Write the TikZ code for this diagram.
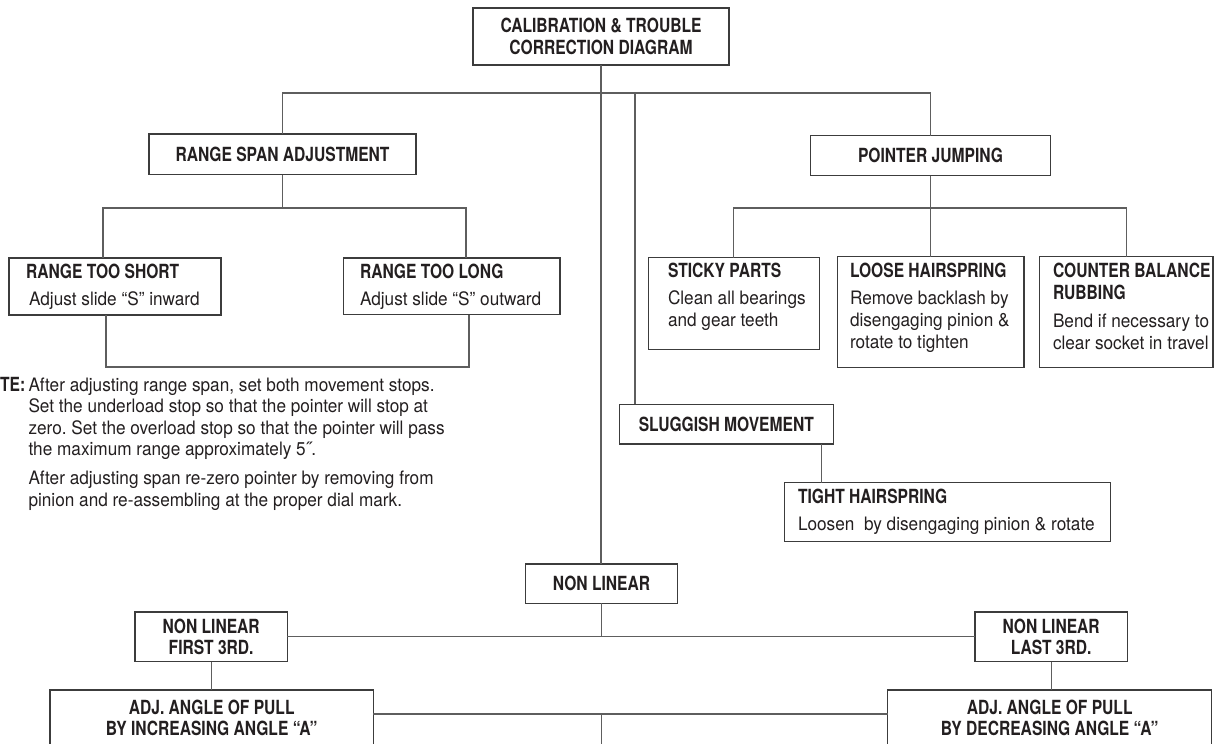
\documentclass[tikz,border=0pt]{standalone}
\usepackage{fontspec}
\usetikzlibrary{calc}
\frenchspacing
\newfontfamily\hbf{TeX Gyre Heros}[FakeStretch=0.80]
\newfontfamily\hrf{TeX Gyre Heros}[FakeStretch=0.93]
\newcommand\ttl{\hbf\bfseries\fontsize{19.5}{22}\selectfont}
\newcommand\bdy{\hrf\fontsize{18.5}{22}\selectfont}
\definecolor{boxc}{HTML}{3C3C3C}
\definecolor{linec}{HTML}{5E5E5E}
\definecolor{txtc}{HTML}{231F20}
\tikzset{
  boxs/.style={draw=boxc, line width=1.3pt, inner sep=0pt, outer sep=0pt,
    align=center, text=txtc, font=\hbf\bfseries\fontsize{19.5}{21.5}\selectfont},
  conn/.style={draw=linec, line width=1.3pt},
  txt/.style={anchor=north west, inner sep=0pt, outer sep=0pt, align=left,
    text=txtc, font=\bdy},
}
\newcommand\mkbox[6]{\node[boxs, minimum width={(#4)-(#2)}, minimum height={(#5)-(#3)}]
  (#1) at ({((#2)+(#4))/2},{((#3)+(#5))/2}) {#6};}
\begin{document}
\begin{tikzpicture}[x=1pt,y=-1pt]
\useasboundingbox (0,0) rectangle (1216,744);
% boxes
\mkbox{title}{473}{8}{729}{65}{CALIBRATION \& TROUBLE\\CORRECTION DIAGRAM}
\mkbox{span}{149}{134}{416}{174.5}{RANGE SPAN ADJUSTMENT}
\mkbox{pj}{810.5}{135.7}{1050.5}{175.5}{POINTER JUMPING}
\mkbox{rts}{9}{258}{221}{315}{}
\mkbox{rtl}{343.5}{258}{560}{314.5}{}
\mkbox{stk}{648.3}{257.7}{819.3}{349.3}{}
\mkbox{lhs}{837.2}{256.7}{1024}{367.7}{}
\mkbox{cb}{1039.6}{256.7}{1213}{367.7}{}
\mkbox{slug}{619.3}{404.3}{833.3}{444}{SLUGGISH MOVEMENT}
\mkbox{tight}{784.3}{482.7}{1110.3}{541.3}{}
\mkbox{nl}{525.7}{564}{677.3}{603.3}{NON LINEAR}
\mkbox{nlf}{135}{612}{287.3}{661.5}{NON LINEAR\\FIRST 3RD.}
\mkbox{nll}{975}{612}{1127.3}{661.5}{NON LINEAR\\LAST 3RD.}
\mkbox{inc}{50}{690}{373.3}{780}{}
\mkbox{dec}{887.7}{690}{1211.7}{780}{}
% texts inside left-aligned boxes
\node[txt] (rtstx) at (26,264) {{\ttl RANGE TOO SHORT}\\[5pt]\,Adjust slide “S” inward};
\node[txt] (rtltx) at (360,264) {{\ttl RANGE TOO LONG}\\[5pt]Adjust slide “S” outward};
\node[txt] (stktx) at (668,263) {{\ttl STICKY PARTS}\\[5pt]Clean all bearings\\and gear teeth};
\node[txt] (lhstx) at (850,263) {{\ttl LOOSE HAIRSPRING}\\[5pt]Remove backlash by\\disengaging pinion \&\\rotate to tighten};
\node[txt] (cbtx) at (1053,263) {{\ttl COUNTER BALANCE}\\{\ttl RUBBING}\\[6pt]Bend if necessary to\\clear socket in travel};
\node[txt] (tighttx) at (798,489) {{\ttl TIGHT HAIRSPRING}\\[5pt]Loosen\ \ by disengaging pinion \& rotate};
\node[boxs, draw=none, minimum width=0pt, minimum height=0pt] (inctx) at (211.7,718) {ADJ. ANGLE OF PULL\\BY INCREASING ANGLE “A”};
\node[boxs, draw=none, minimum width=0pt, minimum height=0pt] (dectx) at (1049.7,718) {ADJ. ANGLE OF PULL\\BY DECREASING ANGLE “A”};
% note
\node[anchor=base east, inner sep=0pt, text=txtc, font=\ttl] (notelbl) at (25.5,391) {NOTE:};
\node[txt, font=\hrf\fontsize{18.5}{21.6}\selectfont] (notetx) at (28.5,377.5)
 {After adjusting range span, set both movement stops.\\
  Set the underload stop so that the pointer will stop at\\
  zero. Set the overload stop so that the pointer will pass\\
  the maximum range approximately 5˝.\\[7pt]
  After adjusting span re-zero pointer by removing from\\
  pinion and re-assembling at the proper dial mark.};
% connectors
\coordinate (bus) at ([yshift=-28pt]title.south);
\draw[conn] (title.south) -- (title.south |- nl.north);
\draw[conn] (span.north) |- (bus) -| (pj.north);
\coordinate (sgT) at ([xshift=15.7pt]slug.north west);
\draw[conn] (sgT |- bus) -- (sgT);
\coordinate (sgB) at ([xshift=-11.5pt]slug.south east);
\draw[conn] (sgB) -- (sgB |- tight.north);
\coordinate (sbus) at ([yshift=-33.5pt]span.south);
\draw[conn] (span.south) -- (sbus);
\coordinate (rtsT) at ([xshift=-12pt]rts.north);
\coordinate (rtlT) at ([xshift=14.3pt]rtl.north);
\draw[conn] (rtsT) |- (sbus) -| (rtlT);
\coordinate (rtsB) at ([xshift=-9pt]rts.south);
\coordinate (rtlB) at ([xshift=17.3pt]rtl.south);
\draw[conn] (rtsB) -- ([yshift=-52pt]rtsB) -| (rtlB);
\coordinate (pbus) at ([yshift=-32.5pt]pj.south);
\draw[conn] (pj.south) -- (pbus);
\draw[conn] (stk.north) |- (pbus) -| (cb.north);
\draw[conn] (lhs.north) -- (lhs.north |- pbus);
\draw[conn] (nl.south) -- (nl.south |- nlf.east);
\draw[conn] (nlf.east) -- (nll.west);
\draw[conn] (nlf.south) -- (nlf.south |- inc.north);
\draw[conn] (nll.south) -- (nll.south |- dec.north);
\coordinate (lbus) at ([yshift=-24pt]inc.north east);
\draw[conn] (lbus) -- (lbus -| dec.west);
\coordinate (lbusm) at (lbus -| nl.south);
\draw[conn] (lbusm) -- ([yshift=-40pt]lbusm);
\end{tikzpicture}
\end{document}
